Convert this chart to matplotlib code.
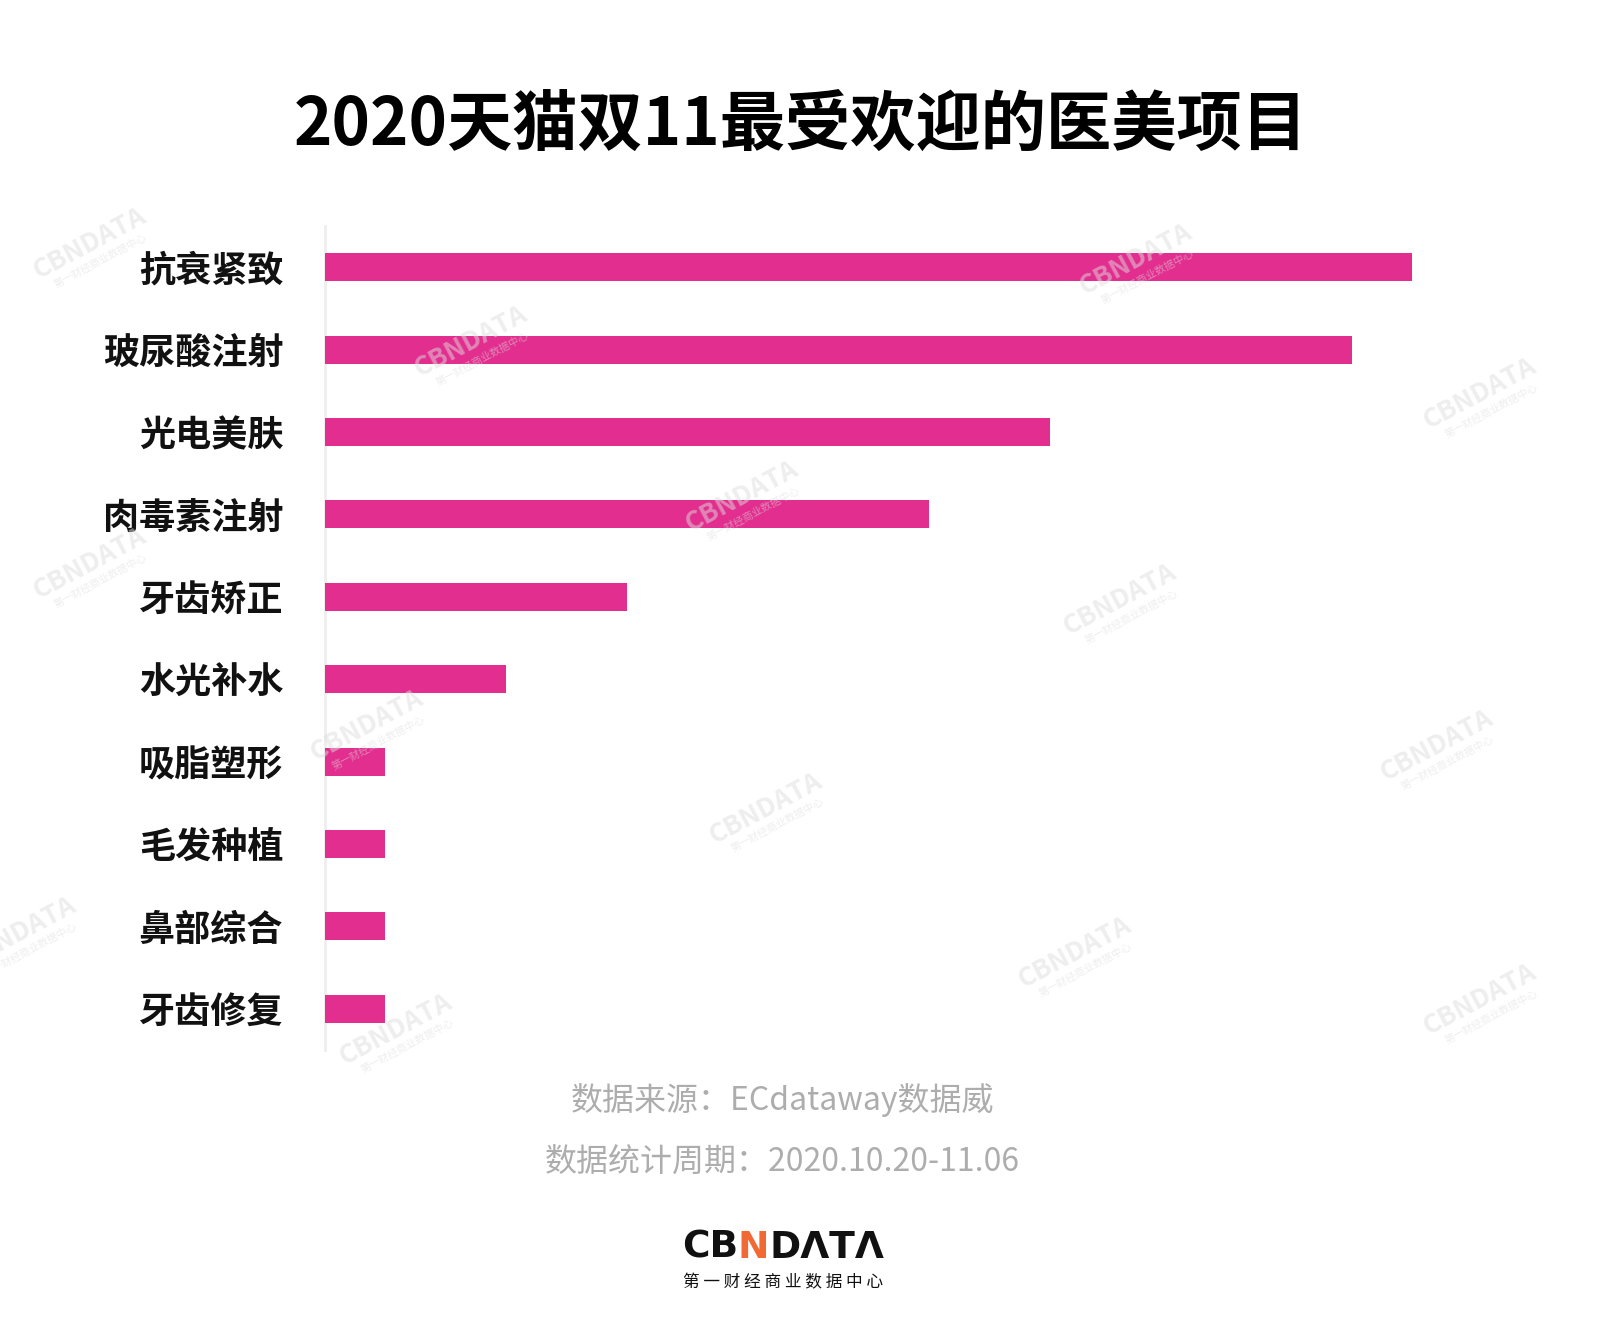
import matplotlib
matplotlib.use("Agg")
import matplotlib.pyplot as plt

plt.rcParams["font.family"] = ["Noto Sans CJK SC", "DejaVu Sans"]

# Data (relative popularity index)
categories = ["抗衰紧致", "玻尿酸注射", "光电美肤", "肉毒素注射", "牙齿矫正",
              "水光补水", "吸脂塑形", "毛发种植", "鼻部综合", "牙齿修复"]
values = [18, 17, 12, 10, 5, 3, 1, 1, 1, 1]

title = "2020天猫双11最受欢迎的医美项目"
source_lines = ["数据来源：ECdataway数据威", "数据统计周期：2020.10.20-11.06"]

# faint CBNDATA watermarks, in figure fractions
watermarks = [(0.055, 0.818), (0.700, 0.806), (0.290, 0.745), (0.912, 0.706),
              (0.457, 0.629), (0.055, 0.579), (0.690, 0.552), (0.226, 0.458),
              (0.885, 0.443), (0.472, 0.396), (0.662, 0.288), (0.012, 0.303),
              (0.912, 0.253), (0.244, 0.231)]

W, H = 1623, 1338
fig = plt.figure(figsize=(W / 100, H / 100), dpi=100)
fig.patch.set_facecolor("white")

ax = fig.add_axes([325 / W, 1 - 1050 / H, 1208 / W, 824 / H])
ax.patch.set_alpha(0)
ypos = list(range(len(categories)))
ax.barh(ypos, values, height=0.34, color="#e22e8f", zorder=3)
ax.set_xlim(0, 20)
ax.set_ylim(len(categories) - 0.5, -0.5)
ax.set_yticks(ypos)
ax.set_yticklabels(categories, fontsize=26, fontweight="bold", color="#111111")
ax.tick_params(axis="y", length=0, pad=30)
ax.set_xticks([])
for side in ["top", "right", "bottom"]:
    ax.spines[side].set_visible(False)
ax.spines["left"].set_color("#eeeeee")
ax.spines["left"].set_linewidth(2)

for x, y in watermarks:
    fig.text(x, y, "CBNDATA", fontsize=19, fontweight="bold", color="#dddddd",
             alpha=0.5, rotation=28, ha="center", va="center", zorder=5)
    fig.text(x + 0.007, y - 0.013, "第一财经商业数据中心", fontsize=7.5, color="#dddddd",
             alpha=0.5, rotation=28, ha="center", va="center", zorder=5)

fig.text(0.4935, 1 - 126 / H, title, fontsize=47, fontweight="heavy",
         color="#000000", ha="center", va="center")

fig.text(782 / W, 1 - 1100 / H, source_lines[0], fontsize=23, color="#adadad",
         ha="center", va="center", fontweight="light")
fig.text(782 / W, 1 - 1163 / H, source_lines[1], fontsize=23, color="#adadad",
         ha="center", va="center", fontweight="light")

# logo: CB + orange N + DATA
fig.canvas.draw()
renderer = fig.canvas.get_renderer()
parts = [("CB", "#111111"), ("N", "#f26a33"), ("DΛTΛ", "#111111")]
texts = []
total = 0
for s, c in parts:
    t = fig.text(0, 0, s, fontsize=27, fontweight="bold", color=c,
                 family="DejaVu Sans", va="center", ha="left")
    texts.append(t)
    total += t.get_window_extent(renderer).width
x0 = 783 - total / 2
for t in texts:
    w = t.get_window_extent(renderer).width
    t.set_position((x0 / W, 1 - 1248 / H))
    x0 += w
fig.text(783 / W, 1 - 1283 / H, "第 一 财 经 商 业 数 据 中 心", fontsize=12,
         color="#111111", ha="center", va="center")

fig.savefig("out.png", dpi=100, facecolor="white")
